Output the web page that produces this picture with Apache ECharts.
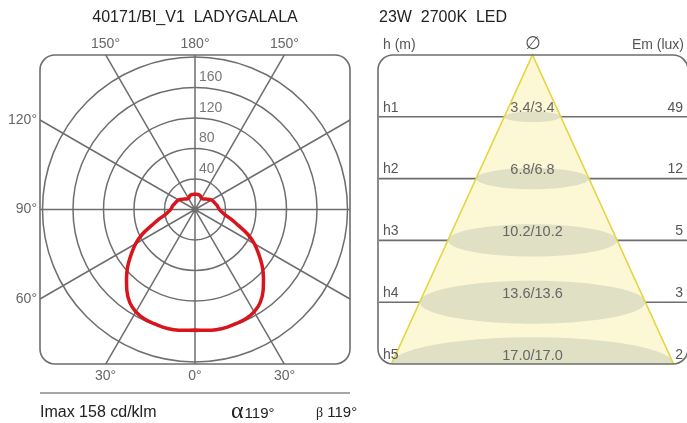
<!DOCTYPE html>
<html>
<head>
<meta charset="utf-8">
<script src="https://cdn.jsdelivr.net/npm/echarts@6/dist/echarts.min.js"></script>
<style>
html, body { margin: 0; padding: 0; background: #fff; }
#chart { width: 687px; height: 423px; }
</style>
</head>
<body>
<div id="chart"></div>
<script>
// 配光曲线 (C0/C180, 对称)
const gammaAngles = [0, 5, 10, 15, 20, 25, 30, 35, 40, 45, 50, 55, 60, 65, 70, 75, 80, 85, 90,
    95, 100, 105, 110, 115, 120, 125, 130, 135, 140, 145, 150, 155, 160, 165, 170, 175, 180];
const intensity = [158, 159, 160, 160, 159, 158, 155, 149, 139, 127, 115, 102, 90, 76, 60, 49, 40, 35, 32,
    30.5, 29.5, 28, 27, 26, 25, 23, 21, 19.5, 18, 17, 17, 18, 19.5, 20, 20, 20, 20];
const ringTicks = [40, 80, 120, 160];
const topLabels = ['150°', '180°', '150°'];
const sideLabels = ['120°', '90°', '60°'];
const bottomLabels = ['30°', '0°', '30°'];

// 照度锥
const levelNames = ['h1', 'h2', 'h3', 'h4', 'h5'];
const heights = [1, 2, 3, 4, 5];
const diamC0 = [3.4, 6.8, 10.2, 13.6, 17.0];
const diamC90 = [3.4, 6.8, 10.2, 13.6, 17.0];
const illuminance = [49, 12, 5, 3, 2];

const FONT = '"Liberation Sans", Arial, sans-serif';
const GRAY = '#6e6e6e';
const PC = [195, 209.5];   // polar center
const HALF = 155;          // half size of left box
const BOX = { x: 40, y: 55, w: 310, h: 309 };
const XMAX = 9.31;
const t30 = Math.tan(Math.PI / 6);

const curve = [];
gammaAngles.forEach((g, i) => curve.push([intensity[i], g]));
for (let i = gammaAngles.length - 2; i >= 0; i--) {
    curve.push([intensity[i], 360 - gammaAngles[i]]);
}

const txt = (text, x, y, opt) => ({
    type: 'text', z: 100,
    style: Object.assign({
        text: text, x: x, y: y,
        fill: '#666', fontSize: 14, fontFamily: FONT,
        textAlign: 'center', textVerticalAlign: 'middle',
        align: 'center', verticalAlign: 'middle'
    }, opt || {})
});

const graphics = [
    // 遮住框外的极坐标线
    { type: 'rect', z: 50, shape: { x: 0, y: 0, width: 379, height: BOX.y }, style: { fill: '#fff' } },
    { type: 'rect', z: 50, shape: { x: 0, y: BOX.y + BOX.h, width: 379, height: 80 }, style: { fill: '#fff' } },
    { type: 'rect', z: 50, shape: { x: 0, y: 0, width: BOX.x, height: 423 }, style: { fill: '#fff' } },
    { type: 'rect', z: 50, shape: { x: BOX.x + BOX.w, y: 0, width: 379 - BOX.x - BOX.w, height: 423 }, style: { fill: '#fff' } },
    { type: 'rect', z: 60, shape: { x: BOX.x, y: BOX.y, width: BOX.w, height: BOX.h, r: 15 },
      style: { fill: 'none', stroke: GRAY, lineWidth: 1.6 } },
    { type: 'rect', z: 60, shape: { x: 378, y: BOX.y, width: 310, height: BOX.h, r: 15 },
      style: { fill: 'none', stroke: GRAY, lineWidth: 1.6 } },
    { type: 'line', z: 60, shape: { x1: 40, y1: 393, x2: 350, y2: 393 }, style: { stroke: '#888', lineWidth: 1.5 } },
    txt('40171/BI_V1  LADYGALALA', 195, 18, { fill: '#222', fontSize: 16 }),
    txt('23W  2700K  LED', 379, 18, { fill: '#222', fontSize: 16, textAlign: 'left', align: 'left' }),
    txt('h (m)', 383, 45, { fill: '#555', textAlign: 'left', align: 'left' }),
    txt('\u2205', 533, 44, { fill: '#555', fontSize: 18, fontFamily: '"DejaVu Sans"' }),
    txt('Em (lux)', 684, 45, { fill: '#555', textAlign: 'right', align: 'right' }),
    txt('Imax 158 cd/klm', 40, 413, { fill: '#222', fontSize: 16, textAlign: 'left', align: 'left' }),
    txt('{a|\u03b1}{b|119°}', 231, 412, {
        fill: '#222', textAlign: 'left', align: 'left',
        rich: {
            a: { fontSize: 24, fontFamily: '"Liberation Serif"', fill: '#222' },
            b: { fontSize: 15, fontFamily: FONT, fill: '#222', padding: [4, 0, 0, 1] }
        }
    }),
    txt('{a|\u03b2}{b| 119°}', 316, 413, {
        fill: '#222', textAlign: 'left', align: 'left',
        rich: {
            a: { fontSize: 14, fontFamily: '"Liberation Serif"', fill: '#222' },
            b: { fontSize: 15, fontFamily: FONT, fill: '#222' }
        }
    })
];
topLabels.forEach((t, i) => graphics.push(txt(t, PC[0] + (i - 1) * HALF * t30, 44)));
bottomLabels.forEach((t, i) => graphics.push(txt(t, PC[0] + (i - 1) * HALF * t30, 376)));
sideLabels.forEach((t, i) => graphics.push(txt(t, 37, PC[1] + (i - 1) * HALF * t30, { textAlign: 'right', align: 'right' })));

const chart = echarts.init(document.getElementById('chart'));

const option = {
    animation: false,
    backgroundColor: '#fff',
    polar: { center: PC, radius: 183 },
    angleAxis: {
        type: 'value', min: 0, max: 360, interval: 30, startAngle: -90,
        axisLine: { show: false }, axisTick: { show: false }, axisLabel: { show: false },
        splitLine: { show: true, lineStyle: { color: GRAY, width: 1.5 } }
    },
    radiusAxis: {
        type: 'value', min: 0, max: 240, interval: 40,
        axisLine: { show: false }, axisTick: { show: false }, axisLabel: { show: false },
        splitLine: {
            show: true,
            lineStyle: { color: [GRAY, GRAY, GRAY, GRAY, GRAY, GRAY, 'rgba(0,0,0,0)'], width: 1.5 }
        }
    },
    grid: { left: 378, top: BOX.y, width: 310, height: BOX.h },
    xAxis: { type: 'value', min: -XMAX, max: XMAX, show: false },
    yAxis: { type: 'value', min: 0, max: 5, inverse: true, show: false },
    graphic: { elements: graphics },
    series: [
        {
            type: 'line', coordinateSystem: 'polar', data: curve,
            showSymbol: false, smooth: 0.35,
            lineStyle: { color: '#d8151c', width: 3.5 }
        },
        {
            type: 'scatter', coordinateSystem: 'polar', symbolSize: 0,
            data: ringTicks.map(v => [v, 180]),
            label: {
                show: true, position: 'right', distance: 4, offset: [0, -10],
                formatter: p => p.value[0], color: '#555', fontSize: 14, fontFamily: FONT
            }
        },
        // 水平高度线
        {
            type: 'custom', coordinateSystem: 'cartesian2d',
            data: heights.slice(0, 4).map(h => [0, h]),
            renderItem: (params, api) => {
                const a = api.coord([-XMAX, api.value(1)]);
                const b = api.coord([XMAX, api.value(1)]);
                return { type: 'line', shape: { x1: a[0], y1: a[1], x2: b[0], y2: b[1] },
                         style: { stroke: GRAY, lineWidth: 1.6 } };
            }
        },
        // 光锥
        {
            type: 'custom', coordinateSystem: 'cartesian2d',
            data: [[0, 0]],
            renderItem: (params, api) => {
                const hb = diamC0[4] / 2;
                const pts = [api.coord([0, 0]), api.coord([-hb, heights[4]]), api.coord([hb, heights[4]])];
                return { type: 'polygon', shape: { points: pts }, style: { fill: '#fcf8d6' } };
            }
        },
        // 光斑
        {
            type: 'custom', coordinateSystem: 'cartesian2d', clip: true,
            data: heights.map((h, i) => [0, h, diamC0[i], diamC90[i]]),
            renderItem: (params, api) => {
                const c = api.coord([0, api.value(1)]);
                const rx = api.size([api.value(2), 0])[0] / 2;
                return { type: 'ellipse', shape: { cx: c[0], cy: c[1], rx: rx, ry: rx * 0.19 },
                         style: { fill: '#dfe0c4' } };
            }
        },
        // 光锥边线
        {
            type: 'custom', coordinateSystem: 'cartesian2d',
            data: [[0, 0]],
            renderItem: (params, api) => {
                const hb = diamC0[4] / 2;
                const pts = [api.coord([-hb, heights[4]]), api.coord([0, 0]), api.coord([hb, heights[4]])];
                return { type: 'polyline', shape: { points: pts },
                         style: { stroke: '#e6d53e', lineWidth: 1.6, fill: null } };
            }
        },
        // 文字
        {
            type: 'custom', coordinateSystem: 'cartesian2d',
            data: heights.map((h, i) => [0, h, i]),
            renderItem: (params, api) => {
                const i = api.value(2);
                const c = api.coord([0, api.value(1)]);
                const l = api.coord([-XMAX, api.value(1)]);
                const r = api.coord([XMAX, api.value(1)]);
                const base = { fill: '#555', fontSize: 14, fontFamily: FONT,
                               textVerticalAlign: 'middle', verticalAlign: 'middle' };
                return {
                    type: 'group',
                    children: [
                        { type: 'text', style: Object.assign({}, base, {
                            text: diamC0[i].toFixed(1) + '/' + diamC90[i].toFixed(1),
                            x: c[0], y: c[1] - 8.5, fill: '#666', fontSize: 14.5,
                            textAlign: 'center', align: 'center' }) },
                        { type: 'text', style: Object.assign({}, base, {
                            text: levelNames[i], x: l[0] + 5, y: l[1] - 9,
                            textAlign: 'left', align: 'left' }) },
                        { type: 'text', style: Object.assign({}, base, {
                            text: String(illuminance[i]), x: r[0] - 4, y: r[1] - 9,
                            textAlign: 'right', align: 'right' }) }
                    ]
                };
            }
        }
    ]
};

chart.setOption(option);
</script>
</body>
</html>
